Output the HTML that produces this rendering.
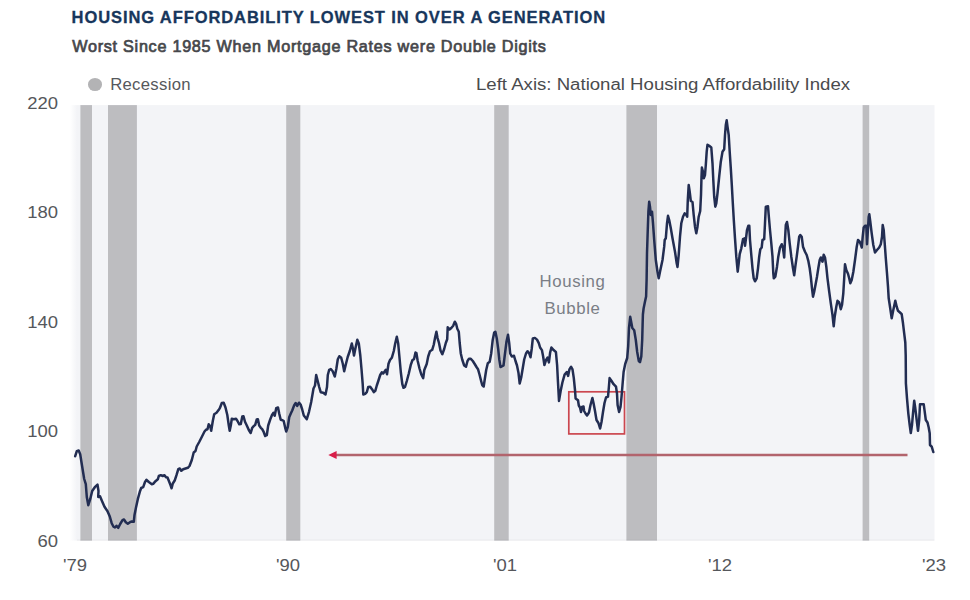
<!DOCTYPE html>
<html lang="en"><head><meta charset="utf-8"><title>Housing Affordability Lowest in Over a Generation</title>
<style>
html,body{margin:0;padding:0;background:#fff;}
body{width:970px;height:600px;position:relative;overflow:hidden;font-family:"Liberation Sans",sans-serif;}
.title{position:absolute;left:71.6px;top:6.8px;font-size:16.5px;font-weight:bold;color:#17365c;-webkit-text-stroke:0.3px #17365c;white-space:nowrap;line-height:20px;letter-spacing:0.91px;}
.sub{position:absolute;left:72.2px;top:35.5px;font-size:16.2px;font-weight:normal;color:#46474b;-webkit-text-stroke:0.7px #46474b;white-space:nowrap;line-height:20px;letter-spacing:0.73px;}
.dot{position:absolute;left:88.3px;top:78.1px;width:14.2px;height:12.9px;border-radius:50%;background:#b3b3b5;}
.leg{position:absolute;left:110.2px;top:74.7px;letter-spacing:0.3px;font-size:16.7px;color:#56585c;white-space:nowrap;line-height:20px;}
.axis{position:absolute;left:476px;top:74.8px;font-size:16px;color:#4a4b4e;white-space:nowrap;line-height:20px;transform:scaleX(1.163);transform-origin:0 50%;}
.yl{position:absolute;left:-41.8px;width:100px;text-align:right;font-size:16px;color:#55575b;line-height:20px;height:20px;transform:scaleX(1.153);transform-origin:100% 50%;}
.xl{position:absolute;top:555.8px;width:60px;text-align:left;font-size:16px;color:#55575b;line-height:20px;height:20px;transform:scaleX(1.153);transform-origin:0 50%;}
.hb{position:absolute;left:522.5px;width:100px;text-align:center;font-size:16.8px;letter-spacing:0.65px;color:#7a7e86;line-height:20px;}
svg{position:absolute;left:0;top:0;}
</style></head><body>
<div class="title">HOUSING AFFORDABILITY LOWEST IN OVER A GENERATION</div>
<div class="sub">Worst Since 1985 When Mortgage Rates were Double Digits</div>
<div class="dot"></div><div class="leg">Recession</div>
<div class="axis">Left Axis: National Housing Affordability Index</div>
<svg width="970" height="600" viewBox="0 0 970 600">
<defs><linearGradient id="lf" x1="0" x2="1" y1="0" y2="0"><stop offset="0" stop-color="#ffffff"/><stop offset="1" stop-color="#f3f4f7"/></linearGradient></defs>
<rect x="70" y="105.1" width="7" height="435.5" fill="url(#lf)"/>
<rect x="77" y="105.1" width="857.5" height="435.5" fill="#f3f4f7"/>
<rect x="80.4" y="105.1" width="11.6" height="435.5" fill="#bdbdc0"/>
<rect x="108" y="105.1" width="28.9" height="435.5" fill="#bdbdc0"/>
<rect x="286.2" y="105.1" width="14.1" height="435.5" fill="#bdbdc0"/>
<rect x="494.2" y="105.1" width="14.5" height="435.5" fill="#bdbdc0"/>
<rect x="626.4" y="105.1" width="30.6" height="435.5" fill="#bdbdc0"/>
<rect x="862.6" y="105.1" width="6.6" height="435.5" fill="#bdbdc0"/>
<rect x="77" y="539.6" width="857.5" height="1" fill="#000" fill-opacity="0.05"/>
<rect x="568.8" y="391.8" width="55.7" height="42.1" fill="none" stroke="#cb474f" stroke-width="1.7"/>
<line x1="335" y1="455" x2="907.5" y2="455" stroke="#b2646d" stroke-width="2.6"/>
<polygon points="328.3,455 336.6,451 336.6,459" fill="#d81e4a"/>
<path d="M75.2,456.2 L76.8,451.2 L78.7,450.5 L80.2,454.2 L82.0,465.5 L84.2,479.0 L85.8,484.2 L86.8,497.0 L88.3,505.2 L90.2,499.2 L92.2,491.0 L94.8,487.2 L97.5,484.7 L98.5,491.0 L98.2,497.0 L100.0,496.2 L102.2,501.5 L104.5,506.8 L107.5,511.2 L109.8,516.5 L111.7,523.2 L113.5,526.7 L115.0,527.5 L116.5,525.8 L118.3,527.8 L120.2,524.0 L122.5,520.2 L124.0,519.5 L125.8,522.2 L127.8,523.7 L130.0,522.2 L131.8,521.5 L133.8,521.8 L134.5,515.0 L136.0,507.5 L137.8,499.2 L139.8,491.8 L141.2,488.0 L143.2,487.2 L145.0,482.0 L146.5,479.8 L148.8,482.0 L151.8,484.2 L153.2,483.8 L155.5,481.2 L157.8,479.3 L158.8,476.0 L160.8,475.2 L162.7,476.0 L164.5,475.2 L166.0,477.2 L167.5,477.5 L169.0,481.2 L170.5,485.0 L171.6,488.3 L172.8,483.5 L174.7,480.5 L176.5,475.2 L178.3,469.2 L179.8,468.5 L181.3,470.8 L183.2,469.2 L185.5,468.5 L187.8,467.8 L189.5,466.0 L191.8,460.0 L193.7,452.5 L195.5,451.0 L196.7,446.5 L199.2,442.0 L201.5,437.5 L204.5,431.5 L206.0,429.7 L207.5,429.2 L208.7,424.3 L210.2,426.2 L211.2,430.8 L212.8,421.0 L214.2,414.2 L216.5,412.8 L218.8,409.8 L219.8,408.2 L221.8,403.0 L223.7,402.7 L225.5,407.5 L227.3,415.0 L228.8,425.5 L229.7,430.8 L230.8,425.5 L231.8,418.8 L233.8,419.2 L236.0,418.8 L237.5,421.0 L239.3,424.3 L240.8,424.0 L242.3,416.5 L243.5,416.2 L245.0,421.8 L246.8,425.5 L248.8,430.0 L250.7,433.0 L252.2,427.8 L253.7,426.2 L255.2,424.8 L256.7,419.5 L257.9,419.2 L259.2,425.5 L260.8,427.8 L262.2,429.2 L263.8,432.2 L265.2,436.0 L266.8,435.2 L268.2,425.5 L270.2,419.5 L272.0,415.0 L273.5,412.8 L274.7,415.8 L276.2,408.2 L278.0,407.5 L279.2,413.5 L280.7,419.8 L282.5,420.2 L283.7,421.0 L285.2,427.8 L286.2,431.5 L287.8,427.0 L289.2,417.2 L290.8,413.5 L292.2,410.5 L294.2,405.2 L295.7,403.0 L297.2,406.0 L299.0,402.7 L300.6,404.5 L302.2,409.5 L303.8,415.5 L306.8,419.2 L309.0,411.8 L311.2,402.0 L313.5,388.5 L315.0,385.5 L316.2,375.0 L317.7,381.0 L319.2,387.0 L320.7,392.2 L323.2,392.7 L325.5,394.5 L327.0,387.0 L327.8,375.0 L329.2,369.8 L330.8,369.0 L332.7,371.2 L334.8,376.5 L336.3,369.0 L337.8,359.2 L339.3,356.2 L341.2,357.8 L342.8,363.8 L344.2,371.2 L345.8,364.5 L347.7,357.0 L349.8,351.0 L351.8,343.5 L352.8,348.0 L354.0,355.5 L355.5,348.0 L357.3,339.8 L358.8,343.5 L360.3,355.5 L361.5,369.0 L362.7,384.0 L363.3,394.5 L365.2,393.8 L366.8,392.2 L368.2,387.0 L370.2,386.7 L372.0,389.2 L373.8,392.2 L375.3,390.8 L376.8,385.5 L378.3,381.0 L380.2,375.0 L381.8,372.3 L383.2,373.5 L384.8,371.2 L385.8,369.8 L387.0,374.2 L388.5,363.8 L390.0,360.0 L391.8,357.8 L393.8,351.0 L395.2,343.5 L396.8,336.8 L398.2,343.5 L399.3,355.5 L400.8,372.0 L402.3,384.0 L403.5,387.8 L405.0,387.0 L406.8,381.0 L408.8,373.5 L410.7,365.2 L412.5,360.0 L414.0,359.2 L415.5,352.5 L416.4,353.0 L417.7,361.0 L419.5,368.5 L421.3,374.5 L423.2,378.2 L424.3,370.0 L426.7,364.0 L428.2,356.5 L430.0,351.2 L432.2,349.8 L433.8,344.5 L435.2,337.0 L436.4,331.8 L437.5,337.8 L439.0,343.0 L440.5,350.5 L442.3,354.2 L444.2,349.0 L445.8,343.0 L447.2,339.2 L447.7,327.2 L449.5,329.5 L451.3,328.0 L453.2,325.8 L454.8,321.7 L456.2,324.2 L457.3,328.8 L458.8,331.8 L459.7,343.0 L460.8,353.5 L462.2,359.5 L464.2,365.5 L466.0,366.7 L467.5,361.0 L469.0,358.8 L470.8,358.8 L472.8,361.0 L474.7,364.0 L476.5,367.0 L478.0,369.2 L479.5,374.5 L481.0,380.5 L482.2,385.0 L483.7,386.5 L484.8,379.0 L486.2,370.0 L487.8,363.2 L489.7,361.8 L491.2,353.5 L492.7,340.0 L494.2,332.5 L495.4,331.8 L496.8,338.5 L498.2,349.0 L499.3,359.5 L500.5,367.0 L502.3,366.2 L503.5,365.5 L505.0,353.5 L506.5,341.5 L508.0,334.8 L509.2,343.0 L510.2,353.5 L511.8,356.5 L514.0,355.8 L515.5,361.0 L517.0,365.5 L518.5,373.0 L519.7,383.5 L521.2,377.5 L522.7,368.5 L524.2,359.5 L526.0,353.5 L527.5,351.2 L529.0,352.8 L530.5,357.2 L531.7,349.0 L532.8,338.5 L534.9,337.9 L537.0,339.6 L538.8,343.1 L540.1,347.5 L541.9,350.1 L543.1,356.2 L544.4,365.0 L546.1,359.8 L547.5,357.6 L548.9,362.4 L550.1,352.8 L551.4,347.5 L553.6,350.1 L555.9,351.9 L557.1,365.0 L558.0,382.5 L559.0,400.9 L560.6,391.2 L562.4,382.5 L564.6,374.6 L566.8,372.0 L568.1,375.9 L569.4,369.4 L571.1,366.8 L572.5,369.4 L573.8,378.1 L575.0,390.0 L575.6,398.5 L578.0,400.3 L578.8,405.5 L580.0,407.5 L581.0,412.0 L582.0,407.0 L583.5,406.5 L584.1,411.0 L585.5,413.5 L587.0,415.5 L589.0,412.5 L590.5,405.0 L592.4,398.0 L593.5,403.0 L595.0,411.0 L596.5,420.0 L598.4,423.0 L600.1,428.5 L601.5,422.0 L603.0,412.0 L604.5,403.0 L606.0,397.5 L608.0,396.7 L608.8,388.0 L609.6,378.1 L611.4,380.8 L613.6,384.2 L616.0,386.7 L617.0,393.5 L617.6,405.0 L619.1,412.0 L620.5,407.0 L621.5,397.0 L622.5,385.0 L623.6,372.0 L625.2,364.0 L627.2,358.0 L628.2,346.0 L629.0,328.0 L630.2,316.8 L631.2,322.0 L632.3,328.0 L634.2,330.2 L635.8,340.0 L637.2,352.0 L638.8,361.0 L640.0,362.2 L641.3,356.5 L642.2,340.0 L642.6,325.0 L642.9,314.5 L643.6,308.5 L644.8,302.5 L646.1,296.5 L646.6,280.0 L647.0,253.3 L647.7,231.7 L648.4,211.7 L649.2,201.7 L650.0,206.7 L650.8,215.0 L652.0,211.7 L653.0,223.3 L654.2,240.0 L655.8,260.0 L657.5,271.7 L658.7,278.3 L660.0,271.7 L662.5,260.0 L664.2,246.7 L664.7,240.0 L665.8,238.3 L667.0,223.3 L668.0,215.8 L669.2,220.0 L670.8,228.3 L672.5,238.3 L675.0,251.7 L676.7,263.3 L677.5,267.0 L678.7,255.0 L680.0,236.7 L681.3,223.3 L683.0,216.7 L684.7,213.3 L686.3,215.0 L687.2,216.7 L687.8,200.0 L688.7,185.0 L689.7,191.7 L690.8,201.0 L692.5,202.0 L693.7,215.0 L695.0,226.7 L696.3,233.3 L697.5,226.7 L698.7,216.7 L700.2,211.0 L701.0,195.0 L701.5,176.7 L701.9,167.5 L703.0,171.7 L703.8,178.3 L705.0,175.0 L705.8,165.0 L706.7,151.7 L707.5,144.7 L709.2,145.8 L711.3,147.5 L712.5,163.3 L713.3,180.0 L714.2,196.7 L715.3,206.7 L716.3,203.3 L717.5,193.3 L719.2,176.7 L720.8,161.7 L722.5,151.7 L724.2,149.2 L725.0,135.0 L725.8,125.0 L726.7,120.3 L727.5,126.7 L728.7,135.0 L729.7,151.7 L730.8,168.3 L731.8,185.0 L732.8,203.0 L733.8,220.0 L735.0,238.3 L736.3,256.7 L737.7,271.7 L738.7,263.3 L739.7,254.2 L741.3,248.3 L743.0,239.2 L744.7,238.3 L745.0,245.8 L746.0,238.3 L747.0,230.0 L748.3,225.8 L749.3,225.8 L750.0,240.0 L751.3,255.0 L752.5,268.3 L753.7,278.3 L755.0,281.3 L756.7,278.3 L758.0,268.3 L759.2,256.7 L760.3,249.2 L761.7,247.5 L762.5,240.0 L764.2,239.2 L765.0,223.3 L765.8,206.7 L768.0,206.3 L768.7,215.0 L770.0,230.0 L771.3,243.3 L772.5,256.7 L773.3,273.3 L773.8,278.3 L775.3,276.7 L777.0,266.7 L778.3,256.7 L780.0,247.5 L781.7,244.2 L783.0,248.3 L784.2,257.5 L785.0,240.0 L785.8,225.0 L787.0,222.0 L788.3,230.0 L789.7,243.3 L791.3,256.7 L793.0,268.3 L794.2,275.3 L795.3,266.7 L796.7,256.7 L798.0,246.7 L799.2,236.7 L800.3,235.0 L801.7,236.7 L803.0,246.7 L805.0,251.7 L806.7,255.0 L808.3,260.8 L809.7,268.3 L810.8,276.7 L812.0,288.3 L813.0,296.7 L814.2,291.7 L815.8,283.3 L817.0,276.7 L818.3,268.3 L819.7,260.0 L820.8,257.5 L822.5,261.7 L823.7,254.7 L825.0,257.5 L826.3,266.7 L827.5,278.3 L829.2,291.7 L830.8,303.3 L832.5,315.0 L833.7,326.3 L834.7,316.7 L836.3,306.7 L837.5,300.8 L839.2,302.5 L840.8,309.2 L842.0,305.0 L843.3,293.3 L844.2,278.3 L845.0,264.2 L846.3,270.0 L848.0,273.7 L849.2,278.3 L850.3,283.3 L851.7,280.0 L853.3,272.0 L855.0,260.0 L856.7,247.0 L858.0,240.0 L859.7,241.7 L860.8,244.6 L861.8,247.5 L862.7,236.7 L863.7,227.5 L865.0,225.8 L866.3,225.8 L867.0,244.2 L867.7,233.3 L868.7,216.7 L869.3,214.2 L870.3,221.7 L871.7,233.3 L873.3,245.0 L875.0,252.5 L877.0,250.0 L879.2,247.5 L880.8,244.2 L882.0,236.7 L882.7,225.0 L883.7,230.0 L884.7,243.3 L885.8,258.3 L887.0,273.3 L888.0,286.7 L888.7,298.3 L890.0,306.7 L891.7,318.3 L893.3,310.0 L895.3,300.8 L896.7,306.7 L898.0,310.8 L900.0,312.5 L901.7,314.2 L903.0,323.3 L904.2,333.3 L905.3,342.5 L905.7,355.0 L905.8,368.3 L905.9,383.3 L907.0,398.3 L908.3,413.3 L909.7,425.0 L910.8,433.0 L912.0,425.0 L913.0,413.3 L914.2,400.8 L915.3,408.3 L916.7,420.0 L918.0,430.8 L919.2,420.0 L920.0,404.2 L922.0,404.2 L923.7,404.2 L924.7,411.7 L925.8,420.0 L927.5,422.5 L928.7,427.5 L929.7,433.3 L930.0,445.0 L931.7,446.7 L933.3,452.0" fill="none" stroke="#222d52" stroke-width="2.5" stroke-linejoin="round" stroke-linecap="round"/>
</svg>
<div class="yl" style="top:93.55px">220</div>
<div class="yl" style="top:203.15px">180</div>
<div class="yl" style="top:312.75px">140</div>
<div class="yl" style="top:422.35px">100</div>
<div class="yl" style="top:531.95px">60</div>
<div class="xl" style="left:62.6px">'79</div>
<div class="xl" style="left:276.3px">'90</div>
<div class="xl" style="left:493.1px">'01</div>
<div class="xl" style="left:708.3px">'12</div>
<div class="xl" style="left:922.0px">'23</div>
<div class="hb" style="top:272.3px">Housing</div>
<div class="hb" style="top:299px">Bubble</div>
</body></html>
